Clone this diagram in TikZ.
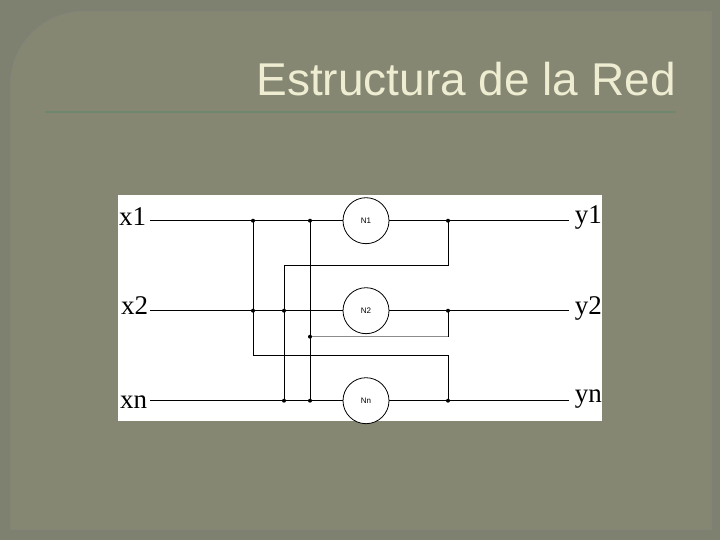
\documentclass[tikz,border=0pt]{standalone}
\usepackage{fontspec}
\setmainfont{Liberation Serif}
\newfontfamily\arialf{Liberation Sans}
\begin{document}
\begin{tikzpicture}[x=1pt,y=-1pt,
  wire/.style={line width=0.8pt,black},
  neuron/.style={circle,draw,line width=0.8pt,fill=white,minimum size=46pt,inner sep=0pt,font=\arialf\fontsize{8}{9}\selectfont},
  lbl/.style={font=\fontsize{27}{29}\selectfont,inner sep=0pt},
  dot/.style={circle,fill=black,inner sep=0pt,minimum size=4pt}]
\definecolor{bg}{HTML}{7E8070}
\definecolor{panel}{HTML}{858773}
\definecolor{titlec}{HTML}{EEEDD2}
\definecolor{rulec}{HTML}{6F8670}
\useasboundingbox (0,0) rectangle (720,540);
\fill[bg] (0,0) rectangle (720,540);
\filldraw[fill=panel,draw=gray!60!panel,line width=0.6pt] (712,530) -- (10,530) -- (10,85) arc[start angle=180,end angle=270,radius=74] -- (712,11) -- cycle;
\node[anchor=base east,text=titlec,font=\arialf\fontsize{46}{50}\selectfont,inner sep=0pt] (title) at (676,96) {Estructura de la Red};
\draw[rulec,line width=1.5pt] (45,112) -- (676,112);
\fill[white] (118,195) rectangle (602,421);
\node[lbl,anchor=west] (x1) at (119,217) {x1};
\node[lbl,anchor=west] (x2) at (121,306) {x2};
\node[lbl,anchor=west] (xn) at (120,402) {xn};
\node[lbl,anchor=east] (y1) at (602,218) {y1};
\node[lbl,anchor=east] (y2) at (602,308) {y2};
\node[lbl,anchor=east] (yn) at (602,399) {yn};
\node[neuron] (n1) at (366,220.7) {N1};
\node[neuron] (n2) at (366,310.7) {N2};
\node[neuron] (nn) at (366,400.7) {Nn};
\foreach \r/\y in {1/220.7,2/310.7,n/400.7}{
  \coordinate (a\r) at (150,\y);
  \coordinate (b\r) at (569,\y);
  \draw[wire] (a\r) -- (n\r);
  \draw[wire] (n\r) -- (b\r);
}
\draw[wire] (253,220.7) -- (253,355.7) -- (448,355.7) -- (448,400.7);
\draw[wire] (448,220.7) -- (448,265) -- (284,265) -- (284,400.7);
\draw[wire] (310,220.7) -- (310,400.7);
\draw[line width=0.8pt,black!45] (310,336.7) -- (448,336.7);
\draw[wire] (448,310.7) -- (448,336.7);
\foreach \p in {(253,220.7),(310,220.7),(448,220.7),(253,310.7),(284,310.7),(448,310.7),(310,336.7),(284,400.7),(310,400.7),(448,400.7)}
  \node[dot] at \p {};
\end{tikzpicture}
\end{document}
